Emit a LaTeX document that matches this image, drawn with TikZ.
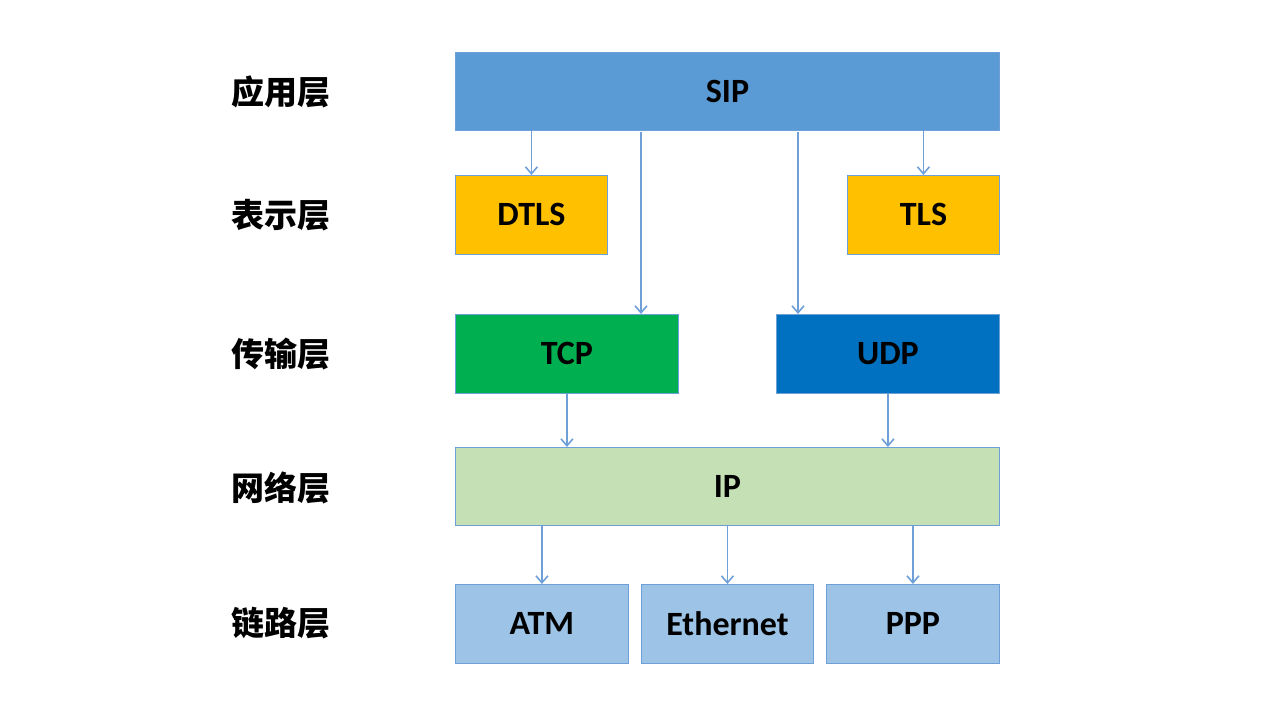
\documentclass[tikz,border=0pt]{standalone}
\usepackage{fontspec}
\setmainfont{Carlito}
\newfontfamily\cjk{Noto Sans CJK SC}
\usepackage{tikz}
\usetikzlibrary{arrows.meta, positioning}

\definecolor{sipblue}{RGB}{91, 155, 213}
\definecolor{tlsgold}{RGB}{255, 192, 0}
\definecolor{tcpgreen}{RGB}{0, 176, 80}
\definecolor{udpblue}{RGB}{0, 112, 192}
\definecolor{ipgreen}{RGB}{197, 224, 180}
\definecolor{linkblue}{RGB}{157, 195, 230}
\definecolor{edgeblue}{RGB}{110, 160, 215}

\tikzset{
  layerbox/.style={draw=edgeblue, line width=0.9pt, anchor=north west, inner sep=0pt,
    font=\fontsize{34}{40}\selectfont\bfseries},
  layerlabel/.style={font=\cjk\fontsize{33}{39}\selectfont\bfseries},
  flow/.style={draw=edgeblue, line width=1.8pt, -{Straight Barb[length=7pt, width=12pt, line width=1.6pt]}}
}

\begin{document}
\begin{tikzpicture}[x=1pt, y=-1pt]
  \useasboundingbox (0,0) rectangle (1280,720);

  % layer names
  \node[layerlabel] (lapp) at (281,92) {应用层};
  \node[layerlabel] (lpres) at (281,215) {表示层};
  \node[layerlabel] (ltrans) at (281,354) {传输层};
  \node[layerlabel] (lnet) at (281,488) {网络层};
  \node[layerlabel] (llink) at (281,623) {链路层};

  % protocol boxes
  \node[layerbox, fill=sipblue, minimum width=544pt, minimum height=78pt] (sip) at (455,52) {SIP};
  \node[layerbox, fill=tlsgold, minimum width=152pt, minimum height=79pt] (dtls) at (455,175) {DTLS};
  \node[layerbox, fill=tlsgold, minimum width=152pt, minimum height=79pt] (tls) at (847,175) {TLS};
  \node[layerbox, fill=tcpgreen, minimum width=223pt, minimum height=79pt] (tcp) at (455,314) {TCP};
  \node[layerbox, fill=udpblue, minimum width=223pt, minimum height=79pt] (udp) at (776,314) {UDP};
  \node[layerbox, fill=ipgreen, minimum width=544pt, minimum height=78pt] (ip) at (455,447) {IP};
  \node[layerbox, fill=linkblue, minimum width=173pt, minimum height=79pt] (atm) at (455,584) {ATM};
  \node[layerbox, fill=linkblue, minimum width=172pt, minimum height=79pt] (eth) at (641,584) {Ethernet};
  \node[layerbox, fill=linkblue, minimum width=173pt, minimum height=79pt] (ppp) at (826,584) {PPP};

  % arrows
  \draw[flow] (sip.south -| dtls.north) -- (dtls.north);
  \draw[flow] (sip.south -| tls.north) -- (tls.north);
  \coordinate (sip2tcp) at (641,132);
  \coordinate (sip2udp) at (798,132);
  \draw[flow] (sip2tcp) -- (sip2tcp |- tcp.north);
  \draw[flow] (sip2udp) -- (sip2udp |- udp.north);
  \draw[flow] (tcp.south) -- (tcp.south |- ip.north);
  \draw[flow] (udp.south) -- (udp.south |- ip.north);
  \draw[flow] (ip.south -| atm.north) -- (atm.north);
  \draw[flow] (ip.south -| eth.north) -- (eth.north);
  \draw[flow] (ip.south -| ppp.north) -- (ppp.north);
\end{tikzpicture}
\end{document}
